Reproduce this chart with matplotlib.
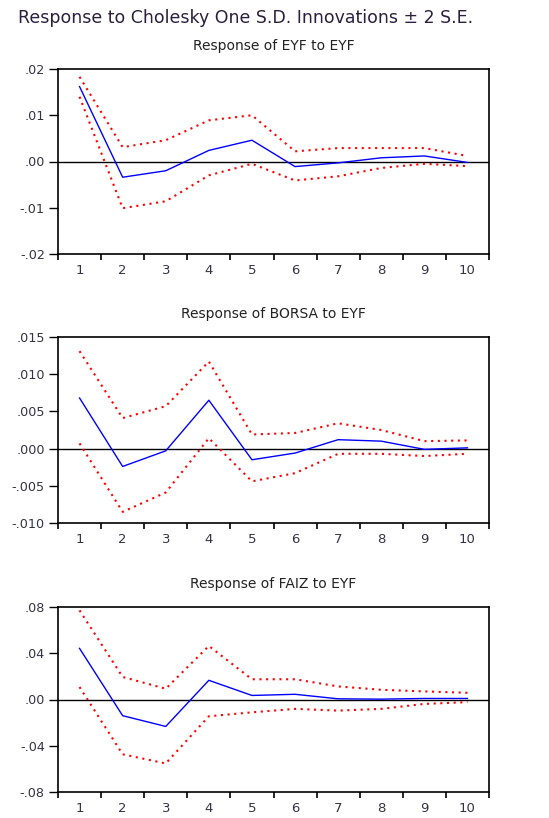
import matplotlib
matplotlib.use('Agg')
import matplotlib.pyplot as plt
from matplotlib.ticker import FixedLocator, FuncFormatter

plt.rcParams['font.family'] = ['DejaVu Sans']

periods = list(range(1, 11))

# Response of EYF to EYF
eyf_resp = [0.0162, -0.0034, -0.0020, 0.0024, 0.0046, -0.0011, -0.0003, 0.0008, 0.0012, -0.0002]
eyf_up = [0.0183, 0.0031, 0.0046, 0.0089, 0.0100, 0.0022, 0.0029, 0.0029, 0.0029, 0.0012]
eyf_lo = [0.0140, -0.0101, -0.0086, -0.0030, -0.0005, -0.0041, -0.0032, -0.0014, -0.0005, -0.0010]

# Response of BORSA to EYF
borsa_resp = [0.0068, -0.0024, -0.0003, 0.0065, -0.0015, -0.0006, 0.0012, 0.0010, -0.0001, 0.0001]
borsa_up = [0.0131, 0.0041, 0.0057, 0.0117, 0.0019, 0.0021, 0.0034, 0.0025, 0.0010, 0.0011]
borsa_lo = [0.0007, -0.0085, -0.0059, 0.0014, -0.0044, -0.0033, -0.0007, -0.0007, -0.0010, -0.0007]

# Response of FAIZ to EYF
faiz_resp = [0.0442, -0.0140, -0.0233, 0.0166, 0.0035, 0.0045, 0.0006, 0.0003, 0.0009, 0.0009]
faiz_up = [0.0771, 0.0195, 0.0093, 0.0463, 0.0175, 0.0175, 0.0113, 0.0084, 0.0070, 0.0058]
faiz_lo = [0.0108, -0.0474, -0.0553, -0.0145, -0.0111, -0.0081, -0.0096, -0.0081, -0.0038, -0.0023]

titles = ['Response of EYF to EYF', 'Response of BORSA to EYF', 'Response of FAIZ to EYF']
yticks = [[-0.02, -0.01, 0.0, 0.01, 0.02],
          [-0.010, -0.005, 0.0, 0.005, 0.010, 0.015],
          [-0.08, -0.04, 0.0, 0.04, 0.08]]
ydigits = [2, 3, 2]


def eviews_fmt(nd):
    def f(v, pos):
        s = f'{v:.{nd}f}'
        if s.startswith('-0'):
            s = '-' + s[2:]
        elif s.startswith('0'):
            s = s[1:]
        return s
    return FuncFormatter(f)


fig = plt.figure(figsize=(5.49, 8.18), dpi=100)
W, H = 549, 818
boxes = [(58, 69, 489, 254), (58, 337, 489, 523), (58, 607, 489, 792)]
series = [(eyf_resp, eyf_up, eyf_lo), (borsa_resp, borsa_up, borsa_lo), (faiz_resp, faiz_up, faiz_lo)]

fig.text(18 / W, 1 - 18 / H, 'Response to Cholesky One S.D. Innovations \u00b1 2 S.E.',
         fontsize=12.5, color='#2a1f3d', ha='left', va='center')

for i, (x0, y0, x1, y1) in enumerate(boxes):
    ax = fig.add_axes([x0 / W, 1 - y1 / H, (x1 - x0) / W, (y1 - y0) / H])
    resp, up, lo = series[i]
    ax.axhline(0, color='black', lw=1.0, zorder=1)
    ax.plot(periods, up, color='#ff0000', ls=(0, (1, 2.2)), lw=1.5, zorder=2)
    ax.plot(periods, lo, color='#ff0000', ls=(0, (1, 2.2)), lw=1.5, zorder=2)
    ax.plot(periods, resp, color='#0000ff', lw=1.0, zorder=3)
    ax.set_xlim(0.5, 10.5)
    ax.set_ylim(yticks[i][0], yticks[i][-1])
    ax.yaxis.set_major_locator(FixedLocator(yticks[i]))
    ax.yaxis.set_major_formatter(eviews_fmt(ydigits[i]))
    ax.xaxis.set_major_locator(FixedLocator([p + 0.5 for p in range(0, 11)]))
    ax.xaxis.set_major_formatter(FuncFormatter(lambda v, p: ''))
    ax.xaxis.set_minor_locator(FixedLocator(periods))
    ax.xaxis.set_minor_formatter(FuncFormatter(lambda v, p: f'{int(round(v))}'))
    ax.tick_params(axis='x', which='major', direction='out', length=4, width=1.2, color='black')
    ax.tick_params(axis='x', which='minor', length=0, pad=7, labelsize=9.5, labelcolor='#333344')
    ax.tick_params(axis='y', direction='out', length=6.5, width=1.0, pad=3,
                   labelsize=9.2, labelcolor='#333344')
    for s in ax.spines.values():
        s.set_linewidth(1.2)
        s.set_color('black')
    ax.set_title(titles[i], fontsize=10, color='#222222', pad=14)

fig.savefig('out.png', dpi=100)
